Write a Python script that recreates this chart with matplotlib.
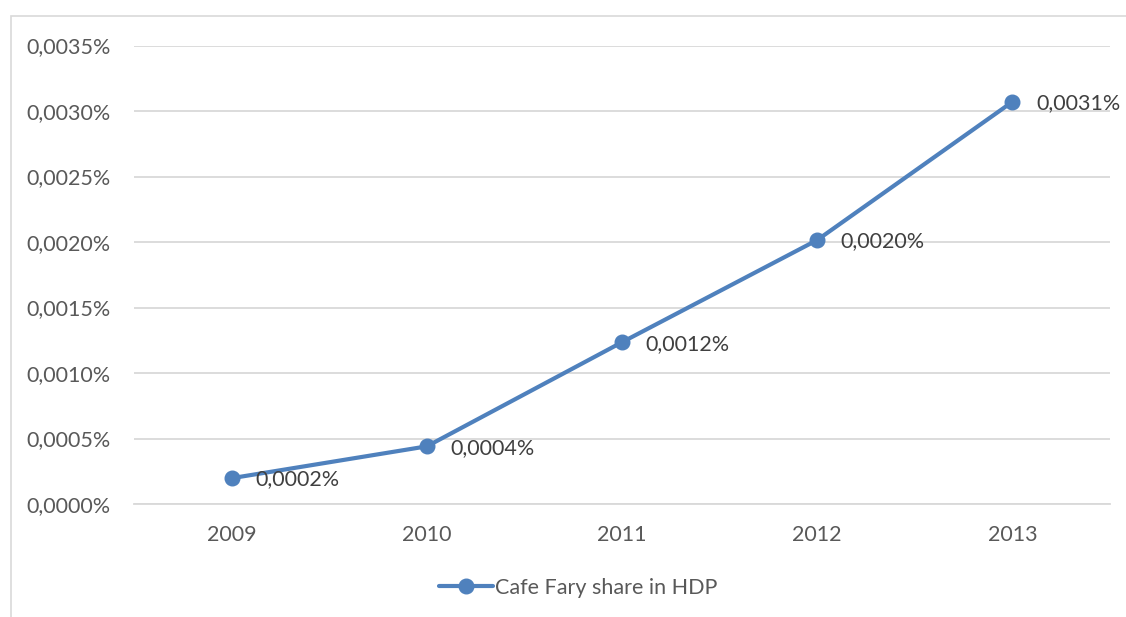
import matplotlib
matplotlib.use("Agg")
import matplotlib.pyplot as plt
import matplotlib.ticker as ticker
from matplotlib.patches import Rectangle

years = ["2009", "2010", "2011", "2012", "2013"]
share = [0.000197, 0.00044, 0.001235, 0.002015, 0.00307]  # percent of HDP
series_name = "Cafe Fary share in HDP"

blue = "#4f81bd"
txt = "#595959"
grid = "#d9d9d9"
fs = 15.5
plt.rcParams['font.family'] = ['Lato', 'DejaVu Sans']

W, H = 1126, 617
fig = plt.figure(figsize=(W / 100, H / 100), dpi=100)
ax = fig.add_axes([134 / W, 1 - 504 / H, (1110 - 134) / W, (504 - 45.5) / H])

# outer chart frame (only left and top edges fall inside the picture)
fig.patches.append(Rectangle((11 / W, -0.1), 1.2, 1 - 16 / H + 0.1, transform=fig.transFigure,
                             fill=False, edgecolor=grid, lw=1.2))

x = range(len(years))
ax.plot(x, share, color=blue, lw=3.0, marker="o", ms=10.5, label=series_name,
        solid_capstyle="round", zorder=3)

for xi, v in zip(x, share):
    ax.annotate(("%.4f%%" % v).replace(".", ","), (xi, v), xytext=(17, -1),
                textcoords="offset points", va="center", ha="left",
                fontsize=fs, color="#404040")

ax.set_xlim(-0.5, len(years) - 0.5)
ax.set_ylim(0, 0.0035)
ax.yaxis.set_major_locator(ticker.MultipleLocator(0.0005))
ax.yaxis.set_major_formatter(ticker.FuncFormatter(lambda v, p: ("%.4f%%" % v).replace(".", ",")))
ax.set_xticks(list(x))
ax.set_xticklabels(years)
ax.grid(axis="y", color=grid, lw=1.3)
ax.set_axisbelow(True)
for s in ["top", "right", "left"]:
    ax.spines[s].set_visible(False)
ax.spines["bottom"].set_color(grid)
ax.spines["bottom"].set_linewidth(1.3)
ax.tick_params(axis="both", length=0, labelsize=fs, labelcolor=txt)
ax.tick_params(axis="y", pad=17)
ax.tick_params(axis="x", pad=15)

ax.legend(loc="center", bbox_to_anchor=((578 - 134) / (1110 - 134), (H - 588 - (H - 504)) / (504 - 45.5)),
          frameon=False, fontsize=fs, labelcolor=txt, handlelength=2.5,
          handletextpad=0.1, borderaxespad=0)

fig.savefig("out.png", dpi=100)
